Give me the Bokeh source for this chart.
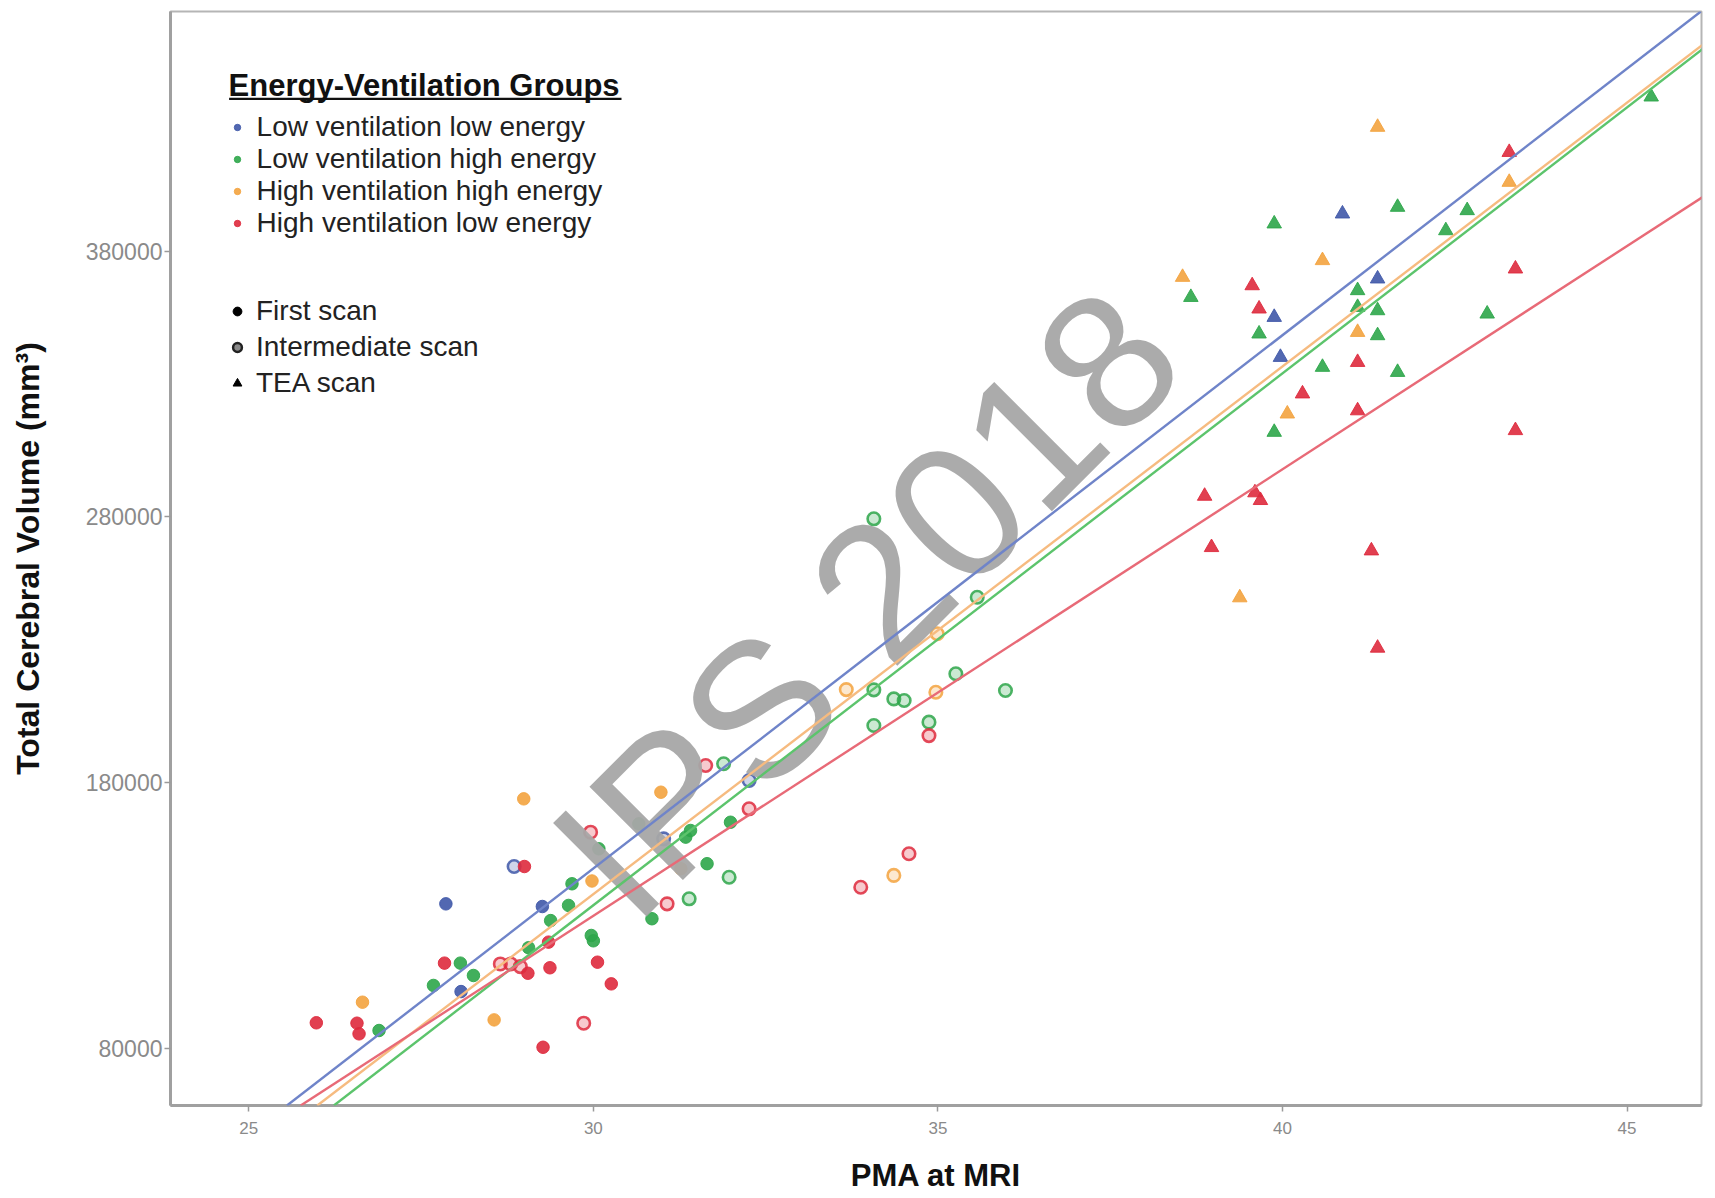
import math
from bokeh.plotting import figure
from bokeh.models import (Range1d, Legend, LegendItem, Slope, Label, BoxAnnotation,
                          ColumnDataSource)
from bokeh.embed import file_html
from bokeh.resources import INLINE

# ---------------- data ----------------
group_keys = ["LL", "LH", "HH", "HL"]
group_labels = ["Low ventilation low energy", "Low ventilation high energy",
                "High ventilation high energy", "High ventilation low energy"]
group_colors = ["#3f58a8", "#2ea64a", "#f3a33f", "#de2a3d"]
line_colors = ["#6f84c9", "#5cc46c", "#f6bb80", "#e86a77"]

# regression lines (gradient per week, intercept)
line_slope = [20060, 20009, 19850, 16800]
line_intercept = [-454080, -466390, -457450, -374120]

# First scan
first_x = [27.86, 28.08, 29.26,
           26.89, 28.07, 27.68, 28.26, 29.97, 30.00, 29.06, 29.38, 29.64, 29.69, 30.08,
           30.66, 31.34, 31.41, 31.65, 30.85, 31.99,
           26.65, 28.56, 29.98, 28.99, 30.98, 31.27,
           25.98, 26.57, 26.60, 27.84, 29.05, 29.37, 30.06, 30.26, 29.27, 29.35, 29.00]
first_y = [134400, 101400, 133400,
           86750, 112100, 103700, 107450, 122500, 120500, 117900, 128100, 133800, 141950, 155100,
           164500, 159500, 162000, 149500, 128800, 165100,
           97400, 90750, 143000, 173900, 176400, 147600,
           89650, 89500, 85500, 112100, 108300, 110350, 112450, 104300, 80450, 120000, 148450]
first_g = ["LL"] * 3 + ["LH"] * 17 + ["HH"] * 6 + ["HL"] * 11

# Intermediate scan
inter_x = [28.85, 31.02, 32.26,
           31.97, 31.39, 31.89, 34.07, 34.36, 34.51, 35.26, 35.98, 34.07, 34.87, 34.07, 35.57,
           33.67, 34.97, 34.36, 34.99,
           28.65, 28.80, 28.94, 29.86, 29.96, 31.07, 31.63, 32.26, 34.87, 34.58, 33.88]
inter_y = [148450, 158850, 180800,
           144400, 136300, 187100, 214900, 211500, 210900, 220950, 214650, 201500, 202750, 279250, 249750,
           215000, 214000, 145100, 236000,
           111800, 111800, 110800, 89500, 161350, 134400, 186450, 170150, 197700, 153250, 140650]
inter_g = ["LL"] * 3 + ["LH"] * 12 + ["HH"] * 4 + ["HL"] * 11

# TEA scan
tea_x = [40.87, 39.88, 41.38, 39.97,
         41.67, 42.68, 42.37, 39.88, 38.67, 39.66, 41.09, 41.09, 41.38, 41.38, 40.58, 41.67,
         39.88, 42.97, 45.35,
         41.38, 43.29, 40.58, 38.55, 41.09, 40.07, 39.38,
         43.29, 39.56, 39.66, 41.09, 40.29, 41.09, 43.38, 43.38, 38.87, 39.60, 39.68, 38.97,
         41.29, 41.38]
tea_y = [394000, 355100, 369550, 340050,
         396500, 395250, 387700, 390250, 362600, 348850, 365150, 358850, 357600, 348200, 336300, 334400,
         311850, 356350, 438000,
         426600, 405900, 376450, 370150, 349450, 318750, 249600,
         417150, 367000, 358250, 338150, 326300, 319950, 373300, 312500, 287800, 289100, 286200, 268500,
         267250, 230650]
tea_g = ["LL"] * 4 + ["LH"] * 15 + ["HH"] * 7 + ["HL"] * 14

x_ticks = [25, 30, 35, 40, 45]
y_ticks = [80000, 180000, 280000, 380000]
y_tick_labels = ["80000", "180000", "280000", "380000"]

scan_labels = ["First scan", "Intermediate scan", "TEA scan"]

# ---------------- figure ----------------
FONT = "Liberation Sans"
p = figure(width=1715, height=1198, output_backend="svg", toolbar_location=None,
           x_range=Range1d(23.864, 46.08), y_range=Range1d(58540, 470100),
           min_border_left=170, min_border_right=14, min_border_top=11, min_border_bottom=93)
p.background_fill_color = "white"
p.border_fill_color = "white"
p.grid.visible = False
p.outline_line_color = "#b5b5b5"
p.outline_line_width = 2

for ax in (p.xaxis[0], p.yaxis[0]):
    ax.axis_line_color = "#a0a0a0"
    ax.axis_line_width = 3
    ax.major_tick_line_color = "#9a9a9a"
    ax.major_tick_line_width = 1.5
    ax.major_tick_out = 6
    ax.major_tick_in = 0
    ax.minor_tick_line_color = None
    ax.major_label_text_color = "#8a8a8a"
    ax.major_label_text_font = FONT
    ax.axis_label_text_font = FONT
    ax.axis_label_text_font_style = "bold"
    ax.axis_label_text_color = "#111111"

p.xaxis.ticker = x_ticks
p.yaxis.ticker = y_ticks
p.yaxis.major_label_overrides = {v: s for v, s in zip(y_ticks, y_tick_labels)}
p.xaxis.major_label_text_font_size = "17px"
p.yaxis.major_label_text_font_size = "23px"
p.xaxis.major_label_standoff = 10
p.yaxis.major_label_standoff = 2
p.xaxis.axis_label = "PMA at MRI"
p.yaxis.axis_label = "Total Cerebral Volume (mm\u00b3)"
p.xaxis.axis_label_text_font_size = "31px"
p.yaxis.axis_label_text_font_size = "32px"
p.xaxis.axis_label_standoff = 21
p.yaxis.axis_label_standoff = 37

# watermark
p.add_layout(Label(x=33.96, y=247700, text="IPS 2018", angle=math.radians(45),
                   text_align="center", text_baseline="middle",
                   text_font=FONT, text_font_size="192px", text_color="#a6a6a6",
                   text_alpha=0.95))

# regression lines
for k, col, sl, ic in zip(group_keys, line_colors, line_slope, line_intercept):
    p.add_layout(Slope(gradient=sl, y_intercept=ic, line_color=col, line_width=2.4))

group_first_renderers = {}
for k, col in zip(group_keys, group_colors):
    src_f = ColumnDataSource(dict(x=[x for x, g in zip(first_x, first_g) if g == k],
                                  y=[y for y, g in zip(first_y, first_g) if g == k]))
    src_i = ColumnDataSource(dict(x=[x for x, g in zip(inter_x, inter_g) if g == k],
                                  y=[y for y, g in zip(inter_y, inter_g) if g == k]))
    src_t = ColumnDataSource(dict(x=[x for x, g in zip(tea_x, tea_g) if g == k],
                                  y=[y for y, g in zip(tea_y, tea_g) if g == k]))
    p.scatter("x", "y", source=src_i, marker="circle", size=12.5, line_color=col,
              line_width=2.6, fill_color=col, fill_alpha=0.25, line_alpha=0.85)
    rf = p.scatter("x", "y", source=src_f, marker="circle", size=12.5, fill_color=col,
                   line_color=col, fill_alpha=0.9, line_alpha=0.9)
    p.scatter("x", "y", source=src_t, marker="triangle", size=14.5, fill_color=col,
              line_color=col, fill_alpha=0.9, line_alpha=0.9)
    group_first_renderers[k] = rf

# legend-only renderers for scan types (a single NaN point: nothing drawn on the plot)
nan = float("nan")
r_first = p.scatter(x="x", y="y", source=ColumnDataSource(dict(x=[nan], y=[nan])),
                    marker="circle", fill_color="black", line_color="black")
r_inter = p.scatter(x="x", y="y", source=ColumnDataSource(dict(x=[nan], y=[nan])),
                    marker="circle", fill_color="#8a8a8a", line_color="#222222", line_width=2.5)
r_tea = p.scatter(x="x", y="y", source=ColumnDataSource(dict(x=[nan], y=[nan])),
                  marker="triangle", fill_color="black", line_color="black")

leg1 = Legend(items=[LegendItem(label=lab, renderers=[group_first_renderers[k]], index=0)
                     for k, lab in zip(group_keys, group_labels)],
              location=(58.6, 866), title="Energy-Ventilation Groups",
              title_text_font=FONT, title_text_font_style="bold",
              title_text_font_size="31px", title_text_color="#111111",
              title_standoff=7, label_text_font=FONT, label_text_font_size="28px",
              label_text_color="#222222", glyph_width=16, glyph_height=32,
              label_height=32, spacing=0, label_standoff=12, padding=0, margin=0,
              background_fill_alpha=0, border_line_color=None)
leg2 = Legend(items=[LegendItem(label=lab, renderers=[r], index=0)
                     for lab, r in zip(scan_labels, [r_first, r_inter, r_tea])],
              location=(56, 706), label_text_font=FONT, label_text_font_size="28px",
              label_text_color="#222222", glyph_width=22, glyph_height=32,
              label_height=32, spacing=4, label_standoff=8, padding=0, margin=0,
              background_fill_alpha=0, border_line_color=None)
p.add_layout(leg1)
p.add_layout(leg2)

# underline for legend title
p.add_layout(BoxAnnotation(left=58.6, right=451, bottom=1005.5, top=1007.8,
                           left_units="screen", right_units="screen",
                           bottom_units="screen", top_units="screen",
                           fill_color="#111111", fill_alpha=1, line_color=None))

open("out.html", "w").write(file_html(p, INLINE))
